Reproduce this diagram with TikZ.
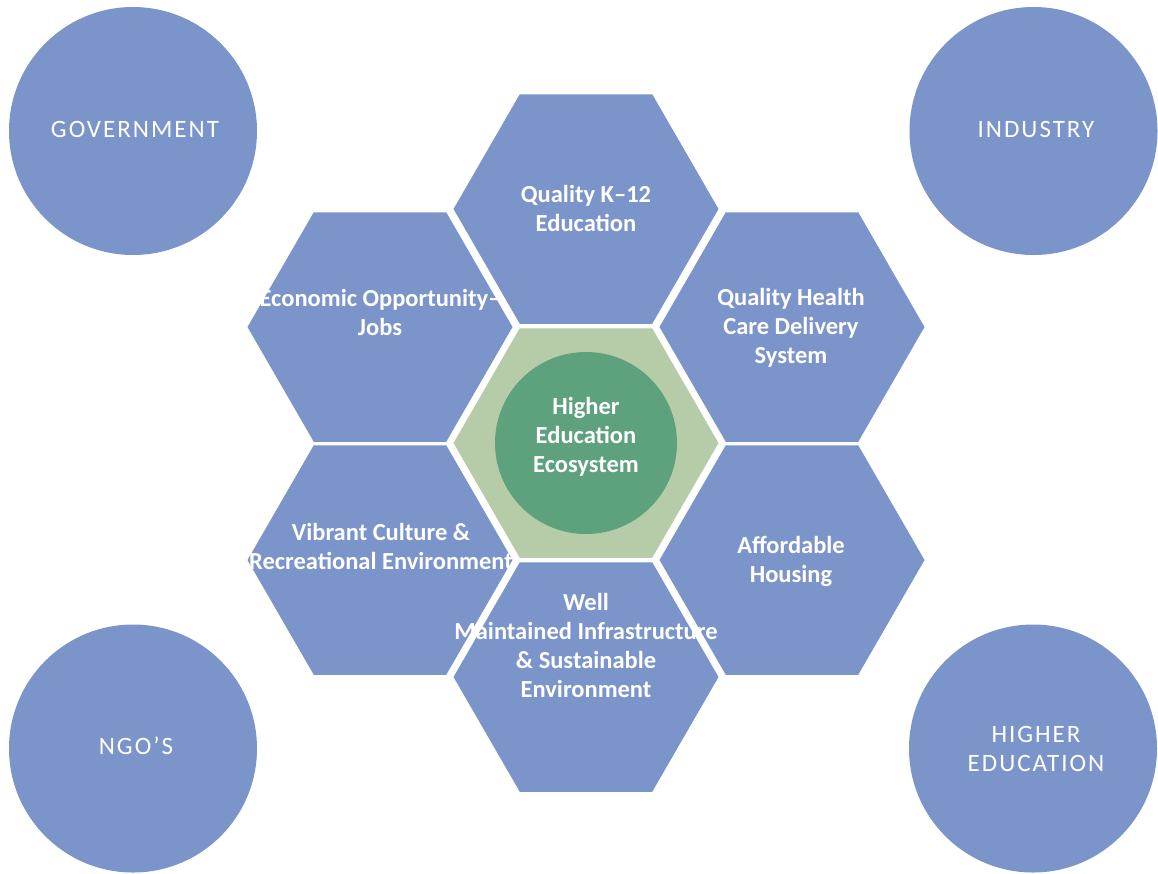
\documentclass[tikz,border=0pt]{standalone}
\usepackage{fontspec}
\setmainfont{Carlito}
\newfontfamily\circfont[LetterSpace=8]{Carlito}
\usetikzlibrary{shapes.geometric}
\definecolor{hexblue}{HTML}{7B94C9}
\definecolor{lightgreen}{HTML}{B6CCA8}
\definecolor{darkgreen}{HTML}{5EA27D}
\begin{document}
\begin{tikzpicture}[x=1pt,y=-1pt,
  hexnode/.style={regular polygon, regular polygon sides=6, minimum size=265pt,
    inner sep=0pt, outer sep=0pt, draw=none, fill=hexblue},
  outercirc/.style={circle, minimum size=248pt, inner sep=0pt, draw=none, fill=hexblue},
  hextext/.style={text=white, font=\bfseries\fontsize{24.5}{29}\selectfont,
    align=center, inner sep=0pt},
  circtext/.style={text=white, font=\circfont\fontsize{25}{29}\selectfont,
    align=center, inner sep=0pt}]
\useasboundingbox (0,0) rectangle (1158,873);

% outer circles
\node[outercirc] (gov) at (133,131) {};
\node[outercirc] (ind) at (1033.5,131) {};
\node[outercirc] (ngo) at (133,748.5) {};
\node[outercirc] (hed) at (1033,748.5) {};

% hexagons
\node[hexnode] (hexTop) at (586,209) {};
\node[hexnode] (hexUL) at (380,327) {};
\node[hexnode] (hexUR) at (792,327) {};
\node[hexnode, fill=lightgreen] (hexC) at (586,443) {};
\node[hexnode] (hexLL) at (380,560) {};
\node[hexnode] (hexLR) at (792,560) {};
\node[hexnode] (hexBot) at (586,677) {};

% central circle
\node[circle, minimum size=182pt, inner sep=0pt, fill=darkgreen] (core) at (586,443) {};

% hexagon texts
\node[hextext] (tK12) at (586,208.5) {Quality K–12\\Education};
\node[hextext] (tEcon) at (380,312.5) {Economic Opportunity–\\Jobs};
\node[hextext] (tHealth) at (791,328) {Quality Health\\Care Delivery\\System};
\node[hextext] (tCore) at (586,437) {Higher\\Education\\Ecosystem};
\node[hextext] (tVib) at (381,546.5) {Vibrant Culture \&\\Recreational Environment};
\node[hextext] (tAff) at (791,561) {Affordable\\Housing};
\node[hextext] (tWell) at (586,645.5) {Well\\Maintained Infrastructure\\\& Sustainable\\Environment};

% circle texts
\node[circtext] (tGov) at (135,129) {GOVERNMENT};
\node[circtext] (tInd) at (1036,129) {INDUSTRY};
\node[circtext] (tNgo) at (136,746) {NGO’S};
\node[circtext] (tHed) at (1036,749.4) {HIGHER\\EDUCATION};
\end{tikzpicture}
\end{document}
